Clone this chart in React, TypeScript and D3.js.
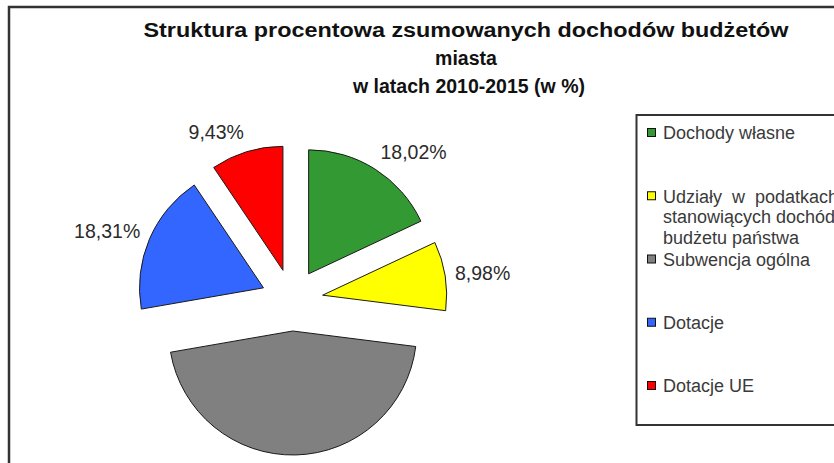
import React from "react";
import * as d3 from "d3";

const categories = [
  "Dochody własne",
  "Udziały w podatkach stanowiących dochód budżetu państwa",
  "Subwencja ogólna",
  "Dotacje",
  "Dotacje UE",
];
const values = [18.02, 8.98, 45.26, 18.31, 9.43];
const colors = ["#339933", "#ffff00", "#808080", "#3366ff", "#ff0000"];
// the reference shows no label for the grey slice (it lies below the frame)
const showLabel = [true, true, false, true, true];
const legendLines = [
  ["Dochody własne"],
  ["Udziały  w  podatkach", "stanowiących dochód", "budżetu państwa"],
  ["Subwencja ogólna"],
  ["Dotacje"],
  ["Dotacje UE"],
];
const titleLines = [
  "Struktura procentowa zsumowanych dochodów budżetów",
  "miasta",
  "w latach 2010-2015 (w %)",
];

const W = 834;
const H = 463;
const FONT = "'Liberation Sans', Arial, sans-serif";

export default function App() {
  const cx = 292;
  const cy = 300;
  const r = 124;
  const explode = 31;
  const labelR = 165;

  const pie = d3.pie<number>().sort(null).value((d) => d)(values);
  const arc = d3.arc<d3.PieArcDatum<number>>().innerRadius(0).outerRadius(r);
  const fmt = (v: number) => d3.format(".2f")(v).replace(".", ",") + "%";

  const legendY = d3.scaleLinear().domain([0, 4]).range([133, 386]);

  return (
    <svg
      width={W}
      height={H}
      style={{ position: "absolute", left: 0, top: 0, background: "#fff" }}
      fontFamily={FONT}
    >
      <rect x={0} y={0} width={W} height={H} fill="#fff" />
      {/* outer frame */}
      <rect x={9} y={7} width={W + 20} height={H + 20} fill="none" stroke="#333" strokeWidth={2.5} />

      {/* title */}
      <g fontWeight="bold" fontSize={19.5} fill="#111" textAnchor="middle">
        <text x={466} y={37} textLength={645} lengthAdjust="spacingAndGlyphs">
          {titleLines[0]}
        </text>
        <text x={466} y={65}>{titleLines[1]}</text>
        <text x={469} y={93}>{titleLines[2]}</text>
      </g>

      {/* pie */}
      <g>
        {pie.map((p, i) => {
          const mid = (p.startAngle + p.endAngle) / 2;
          const dx = Math.sin(mid) * explode;
          const dy = -Math.cos(mid) * explode;
          return (
            <path
              key={i}
              d={arc(p) || ""}
              transform={`translate(${cx + dx},${cy + dy})`}
              fill={colors[i]}
              stroke="#1a1a1a"
              strokeWidth={1}
            />
          );
        })}
        {pie.map((p, i) => {
          if (!showLabel[i]) return null;
          const mid = (p.startAngle + p.endAngle) / 2;
          const s = Math.sin(mid);
          const c = Math.cos(mid);
          const px = cx + s * labelR;
          const py = cy - c * labelR - c * 10;
          return (
            <text
              key={"l" + i}
              x={px}
              y={py}
              dy="0.35em"
              textAnchor={s >= 0 ? "start" : "end"}
              fontSize={19.5}
              fill="#2b2b2b"
            >
              {fmt(values[i])}
            </text>
          );
        })}
      </g>

      {/* legend */}
      <rect x={636.5} y={115} width={W} height={310} fill="#fff" stroke="#333" strokeWidth={2} />
      {categories.map((cat, i) => {
        const y = legendY(i);
        return (
          <g key={cat}>
            <rect x={647.5} y={y - 4.5} width={8} height={8} fill={colors[i]} stroke="#111" strokeWidth={1} />
            {legendLines[i].map((ln, j) => (
              <text
                key={j}
                x={663}
                y={y + j * 20.5}
                dy="0.35em"
                fontSize={18}
                fill="#3a3a3a"
                style={{ whiteSpace: "pre" }}
              >
                {ln}
              </text>
            ))}
          </g>
        );
      })}
    </svg>
  );
}
